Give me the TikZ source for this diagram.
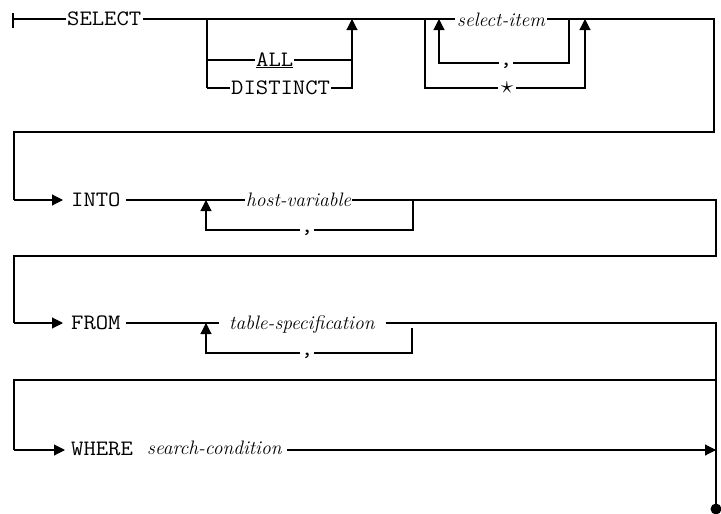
\documentclass[tikz,border=0pt]{standalone}
\usepackage{fontspec}
\usetikzlibrary{arrows.meta}
\newfontfamily\kwfam{Latin Modern Mono}[FakeStretch=1.09]
\newcommand\kwfont{\kwfam\fontsize{22}{24}\selectfont}
\tikzset{
  kw/.style={font=\kwfont, inner sep=0pt, anchor=base west},
  var/.style={font=\itshape\fontsize{19.5}{22}\selectfont, inner sep=0pt, anchor=base west},
  sym/.style={font=\kwfont, inner sep=0pt, anchor=base},
  ln/.style={line width=1.1pt, line join=miter},
  arr/.style={ln, -{Triangle[length=11pt,width=11pt]}}
}
\begin{document}
\begin{tikzpicture}[x=1pt,y=-1pt]
\useasboundingbox (0,0) rectangle (721,514);
% ---------- SELECT row (y=19)
\coordinate (tickT) at (13,13);
\coordinate (tickB) at (13,28);
\coordinate (start) at (13,19);
\node[kw] (sel) at (67,25) {SELECT};
\coordinate (b1) at (207,19);
\coordinate (b1a) at (207,60);
\coordinate (b1d) at (207,88);
\node[kw] (all) at (256,66) {\underline{ALL}};
\node[kw] (dist) at (231,94) {DISTINCT};
\coordinate (e1a) at (352,60);
\coordinate (e1d) at (352,88);
\coordinate (e1) at (352,19);
\coordinate (o1) at (425,19);
\coordinate (o1d) at (425,88);
\coordinate (i1) at (439,19);
\coordinate (i1d) at (439,63);
\node[var] (si) at (457,26) {select-item};
\coordinate (i2) at (569,19);
\coordinate (i2d) at (569,63);
\node[sym] (c1) at (506,65) {,};
\node[inner sep=0pt, font=\fontsize{26}{28}\selectfont] (st) at (507,88) {$\star$};
\coordinate (o2d) at (585,88);
\coordinate (o2) at (585,19);
\coordinate (r1) at (714,19);
\coordinate (r1b) at (714,132);
\coordinate (l1b) at (14,132);
\coordinate (l1) at (14,200);

\draw[ln] (tickT) -- (tickB);
\draw[ln] (start) -- ([xshift=-1pt]sel.west |- start);
\draw[ln] ([xshift=2pt]sel.east |- start) -- ([xshift=-2pt]si.west |- start);
\draw[ln] ([xshift=2pt]si.east |- start) -- (r1) -- (r1b) -- (l1b) -- (l1);
\draw[ln] (b1) -- (b1d);
\draw[ln] (b1a) -- ([xshift=-1pt]all.west |- b1a);
\draw[ln] ([xshift=1pt]all.east |- b1a) -- (e1a);
\draw[ln] (b1d) -- ([xshift=-1pt]dist.west |- b1d);
\draw[arr] ([xshift=1pt]dist.east |- b1d) -- (e1d) -- (e1);
\draw[ln] (o1) -- (o1d) -- ([xshift=-3pt]st.west |- o1d);
\draw[arr] ([xshift=3pt]st.east |- o1d) -- (o2d) -- (o2);
\draw[ln] (i2) -- (i2d) -- ([xshift=1pt]c1.east |- i2d);
\draw[arr] ([xshift=-1pt]c1.west |- i1d) -- (i1d) -- (i1);

% ---------- INTO row (y=200)
\coordinate (into0) at (63,200);
\node[kw] (into) at (71,206) {INTO};
\coordinate (h1) at (206,200);
\coordinate (h1d) at (206,230);
\node[var] (hv) at (246,206) {host-variable};
\node[sym] (c2) at (307,232) {,};
\coordinate (h2) at (413,200);
\coordinate (h2d) at (413,230);
\coordinate (r2) at (716,200);
\coordinate (r2b) at (716,256);
\coordinate (l2b) at (14,256);
\coordinate (l2) at (14,323);

\draw[arr] (l1) -- (into0);
\draw[ln] ([xshift=5pt]into.east |- into0) -- ([xshift=-1pt]hv.west |- into0);
\draw[ln] ([xshift=1pt]hv.east |- into0) -- (r2) -- (r2b) -- (l2b) -- (l2);
\draw[ln] (h2) -- (h2d) -- ([xshift=1pt]c2.east |- h2d);
\draw[arr] ([xshift=-1pt]c2.west |- h1d) -- (h1d) -- (h1);

% ---------- FROM row (y=323)
\coordinate (from0) at (63,323);
\node[kw] (from) at (71,329) {FROM};
\coordinate (t1) at (206,323);
\coordinate (t1d) at (206,353);
\node[var] (ts) at (229,329) {table-specification};
\node[sym] (c3) at (307,355) {,};
\coordinate (t2) at (412,328);
\coordinate (t2d) at (412,353);
\coordinate (r3) at (716,323);
\coordinate (r3b) at (716,380);
\coordinate (l3b) at (14,380);
\coordinate (l3) at (14,450);
\coordinate (endp) at (716,509);

\draw[arr] (l2) -- (from0);
\draw[ln] ([xshift=5pt]from.east |- from0) -- ([xshift=-10pt]ts.west |- from0);
\draw[ln] ([xshift=11pt]ts.east |- from0) -- (r3) -- (endp);
\draw[ln] (t2) -- (t2d) -- ([xshift=1pt]c3.east |- t2d);
\draw[arr] ([xshift=-1pt]c3.west |- t1d) -- (t1d) -- (t1);

% ---------- WHERE row (y=450)
\coordinate (where0) at (65,450);
\node[kw] (where) at (71,455) {WHERE};
\node[var] (sc) at (147,454) {search-condition};
\coordinate (wend) at (716,450);

\draw[ln] (r3b) -- (l3b) -- (l3);
\draw[arr] (l3) -- (where0);
\draw[arr] ([xshift=5pt]sc.east |- wend) -- (wend);
\fill (endp) circle (5.5);
\end{tikzpicture}
\end{document}
